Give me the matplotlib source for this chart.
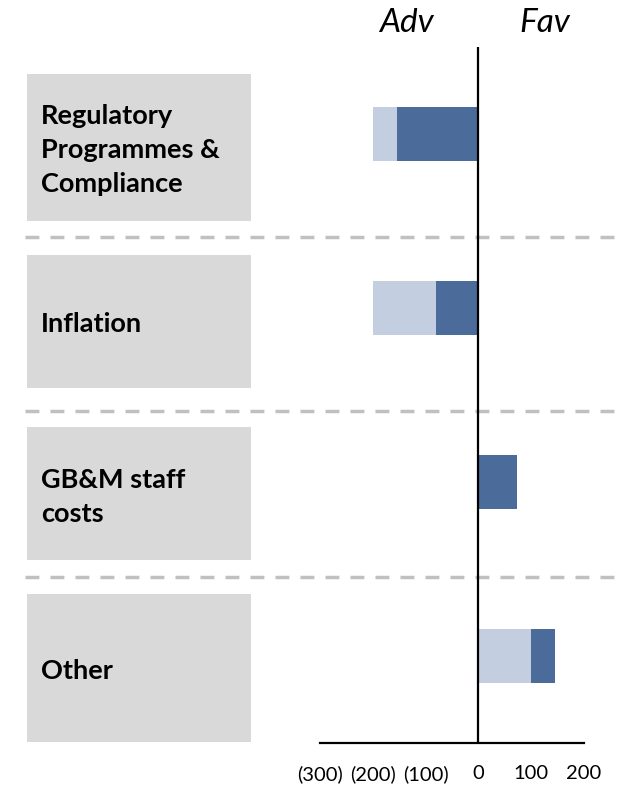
import matplotlib
matplotlib.use("Agg")
import matplotlib.pyplot as plt
from matplotlib.patches import Rectangle
from matplotlib.lines import Line2D

categorias = ["Regulatory\nProgrammes &\nCompliance", "Inflation", "GB&M staff\ncosts", "Other"]
escuro = [-155, -80, 73, 45]
claro = [-45, -120, 0, 100]
ticks_x = [-300, -200, -100, 0, 100, 200]
ticks_rotulos = ["(300)", "(200)", "(100)", "0", "100", "200"]

COR_ESCURO = "#4b6b9b"
COR_CLARO = "#c3cfe0"
COR_CAIXA = "#d9d9d9"
COR_TRACO = "#c0c0c0"

W, H = 630, 786
plt.rcParams["font.family"] = ["Lato", "DejaVu Sans"]

fig = plt.figure(figsize=(W / 100, H / 100), dpi=100)

def fx(px):
    return px / W

def fy(py):
    return 1 - py / H

# caixas cinza com os rotulos (posicoes em pixels)
caixas = [(74, 221), (255, 388), (427, 560), (594, 742)]
for (y0, y1), nome in zip(caixas, categorias):
    fig.add_artist(Rectangle((fx(27), fy(y1)), fx(251) - fx(27), fy(y0) - fy(y1),
                             transform=fig.transFigure, facecolor=COR_CAIXA,
                             edgecolor="none", zorder=0))
    fig.text(fx(41), fy((y0 + y1) / 2 + 3), nome, ha="left", va="center",
             fontsize=19.5, fontweight="bold", color="black", linespacing=1.5)

# linhas tracejadas separando categorias
for yy in [237, 411, 577]:
    fig.add_artist(Line2D([fx(25), fx(615)], [fy(yy), fy(yy)], transform=fig.transFigure,
                          color=COR_TRACO, lw=2.5, dashes=(4, 3.2), zorder=0))

ax = fig.add_axes([fx(320), fy(743), fx(584) - fx(320), fy(47) - fy(743)])
ax.patch.set_alpha(0)

pos = list(range(len(categorias)))
# segmento adverso: escuro a partir do zero; favoravel: claro a partir do zero
esq_escuro = [c if c > 0 else 0 for c in claro]
esq_claro = [e if e < 0 else 0 for e in escuro]
ax.barh(pos, claro, left=esq_claro, height=0.31, color=COR_CLARO, zorder=2)
ax.barh(pos, escuro, left=esq_escuro, height=0.31, color=COR_ESCURO, zorder=2)

ax.axvline(0, color="black", lw=1.6, zorder=3)
ax.set_xlim(-300, 200)
ax.set_ylim(3.5, -0.5)
ax.set_xticks(ticks_x)
ax.set_xticklabels(ticks_rotulos, fontsize=14.5)
ax.tick_params(axis="x", length=0, pad=16)
ax.set_yticks([])
for s in ["top", "left", "right"]:
    ax.spines[s].set_visible(False)
ax.spines["bottom"].set_linewidth(1.6)

fig.text(fx(406), fy(23), "Adv", ha="center", va="center", fontsize=24, style="italic")
fig.text(fx(545), fy(23), "Fav", ha="center", va="center", fontsize=24, style="italic")

fig.savefig("out.png", dpi=100)
